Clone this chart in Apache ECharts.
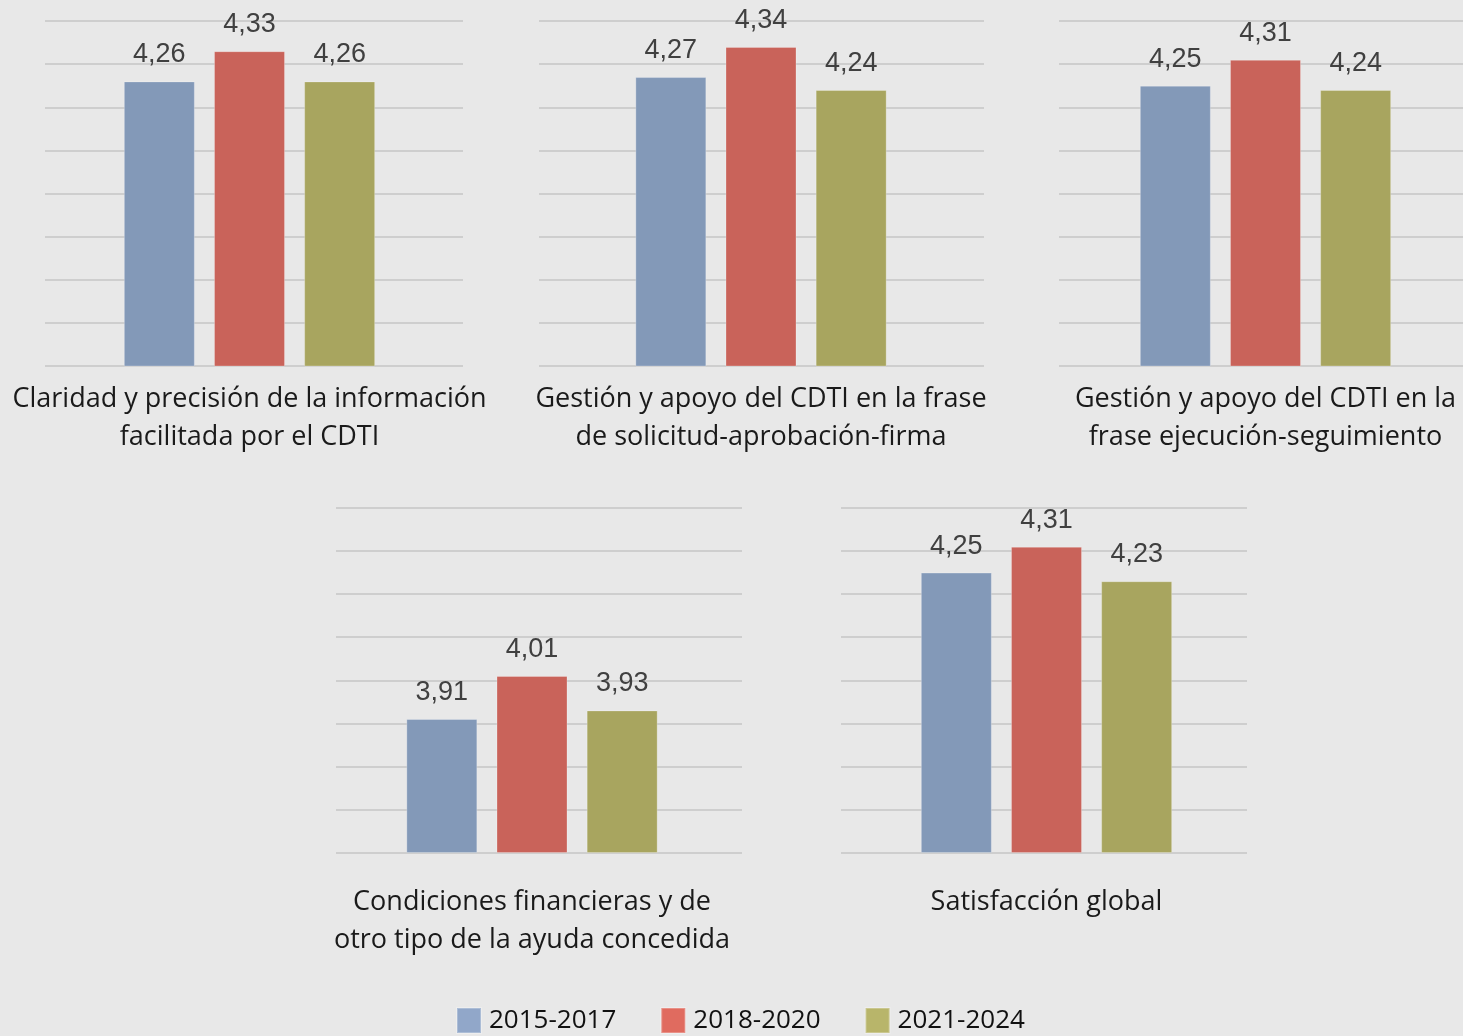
<!DOCTYPE html>
<html>
<head>
<meta charset="utf-8">
<script src="https://cdn.jsdelivr.net/npm/echarts@6/dist/echarts.min.js"></script>
<style>
  html, body { margin: 0; padding: 0; background: #e8e8e8; }
  #chart { width: 1463px; height: 1036px; }
</style>
</head>
<body>
<div id="chart"></div>
<script>
// Survey items (one small panel each)
const categories = [
  'Claridad y precisión de la información\nfacilitada por el CDTI',
  'Gestión y apoyo del CDTI en la frase\nde solicitud-aprobación-firma',
  'Gestión y apoyo del CDTI en la\nfrase ejecución-seguimiento',
  'Condiciones financieras y de\notro tipo de la ayuda concedida',
  'Satisfacción global'
];
const periods = ['2015-2017', '2018-2020', '2021-2024'];
const values2015 = [4.26, 4.27, 4.25, 3.91, 4.25];
const values2018 = [4.33, 4.34, 4.31, 4.01, 4.31];
const values2021 = [4.26, 4.24, 4.24, 3.93, 4.23];
const seriesValues = [values2015, values2018, values2021];

const barColors = ['#8399b8', '#c9635a', '#a8a55f'];
const legendColors = ['#91a7c9', '#e06b5f', '#b8b56a'];
const yMin = 3.6, yMax = 4.4, yStep = 0.1;

// Panel placement: gridline area and bar-group centre
const panels = [
  { left: 45,   width: 418, top: 21,  height: 345, center: 249.5, margin: 14 },
  { left: 539,  width: 445, top: 21,  height: 345, center: 761,   margin: 14 },
  { left: 1059, width: 420, top: 21,  height: 345, center: 1265.5, margin: 14 },
  { left: 336,  width: 406, top: 508, height: 344.5, center: 532,   margin: 31 },
  { left: 841,  width: 406, top: 508, height: 344.5, center: 1046.5, margin: 31 }
];

const grids = [], xAxes = [], yAxes = [], series = [];
const fmt = v => v.toFixed(2).replace('.', ',');

panels.forEach((p, i) => {
  // background grid with horizontal lines
  const gLines = grids.length;
  grids.push({ left: p.left, width: p.width, top: p.top, height: p.height, containLabel: false });
  xAxes.push({ type: 'category', gridIndex: gLines, data: [''], show: false });
  yAxes.push({
    type: 'value', gridIndex: gLines, min: yMin, max: yMax, interval: yStep,
    axisLine: { show: false }, axisTick: { show: false }, axisLabel: { show: false },
    splitLine: { show: true, lineStyle: { color: '#c6c6c6', width: 1.5 } }
  });
  // bars grid, centred on the bar group
  const gBars = grids.length;
  grids.push({ left: p.center - 130, width: 260, top: p.top, height: p.height, containLabel: false });
  xAxes.push({
    type: 'category', gridIndex: gBars, data: [categories[i]],
    axisLine: { show: false }, axisTick: { show: false },
    axisLabel: {
      margin: p.margin, color: '#1a1a1a', fontFamily: 'Open Sans', fontSize: 27,
      lineHeight: 38, interval: 0
    }
  });
  yAxes.push({
    type: 'value', gridIndex: gBars, min: yMin, max: yMax, interval: yStep,
    show: false, splitLine: { show: false }
  });
  periods.forEach((name, s) => {
    series.push({
      name: name, type: 'bar', xAxisIndex: gBars, yAxisIndex: gBars,
      barWidth: 71, barGap: '27%',
      data: [seriesValues[s][i]],
      itemStyle: { color: barColors[s], borderColor: 'rgba(255,255,255,0.25)', borderWidth: 1 },
      label: {
        show: true, position: 'top', distance: 13,
        fontFamily: 'Liberation Sans', fontSize: 27, color: '#404040',
        formatter: prm => fmt(prm.value)
      },
      z: 3
    });
  });
});

const chart = echarts.init(document.getElementById('chart'));
chart.setOption({
  backgroundColor: '#e8e8e8',
  animation: false,
  grid: grids,
  xAxis: xAxes,
  yAxis: yAxes,
  legend: {
    left: 456, top: 1007, padding: 0,
    icon: 'rect', itemWidth: 24, itemHeight: 25, itemGap: 44,
    data: periods.map((n, s) => ({ name: n, itemStyle: { color: legendColors[s] } })),
    textStyle: { fontFamily: 'Open Sans', fontSize: 26, color: '#111', padding: [0, 0, 0, 3] }
  },
  series: series
});
</script>
</body>
</html>
